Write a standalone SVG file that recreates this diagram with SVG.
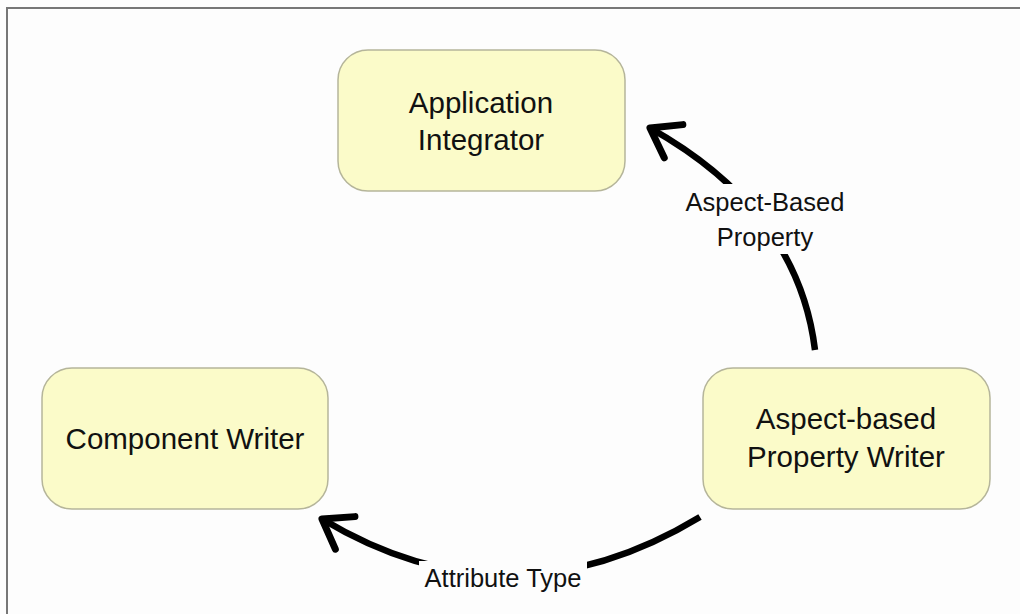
<svg xmlns="http://www.w3.org/2000/svg" width="1020" height="614" viewBox="0 0 1020 614">
<style>
.node rect{fill:#fbfbc9;stroke:#b5b59a;stroke-width:1.5}
.node text{font-family:"Liberation Sans",Arial,sans-serif;font-size:29.5px;fill:#111;text-anchor:middle}
.conn path.line{fill:none;stroke:#000;stroke-width:6.5}
.lbl{font-family:"Liberation Sans",Arial,sans-serif;font-size:25.5px;fill:#111;text-anchor:middle}
</style>
<defs>
<marker id="arr" markerUnits="userSpaceOnUse" viewBox="-40 -30 50 60" refX="0" refY="0" markerWidth="50" markerHeight="60" orient="auto">
<path d="M-27,-19 L0,0 L-27,19" fill="none" stroke="#000" stroke-width="7" stroke-linecap="round" stroke-linejoin="round"/>
</marker>
</defs>
<rect x="0" y="0" width="1020" height="614" fill="#fdfdfd"/>
<path d="M7,614 V8 H1020" fill="none" stroke="#777" stroke-width="2"/>
<g class="conn" id="connectors">
<path class="line" d="M815,350 Q798,211 650,128" marker-end="url(#arr)"/>
<path class="line" d="M700,517 Q510,632 322,519" marker-end="url(#arr)"/>
<rect x="676" y="184" width="176" height="70" fill="#fdfdfd"/>
<text class="lbl" x="765" y="211">Aspect-Based</text>
<text class="lbl" x="765" y="246">Property</text>
<rect x="419" y="561" width="168" height="32" fill="#fdfdfd"/>
<text class="lbl" x="503" y="587">Attribute Type</text>
</g>
<g class="node" id="application-integrator">
<rect x="338" y="50" width="287" height="141" rx="30"/>
<text x="481" y="113">Application</text>
<text x="481" y="150">Integrator</text>
</g>
<g class="node" id="aspect-based-property-writer">
<rect x="703" y="368" width="287" height="141" rx="30"/>
<text x="846" y="429">Aspect-based</text>
<text x="846" y="467">Property Writer</text>
</g>
<g class="node" id="component-writer">
<rect x="42" y="368" width="286" height="141" rx="30"/>
<text x="185" y="449">Component Writer</text>
</g>
</svg>
